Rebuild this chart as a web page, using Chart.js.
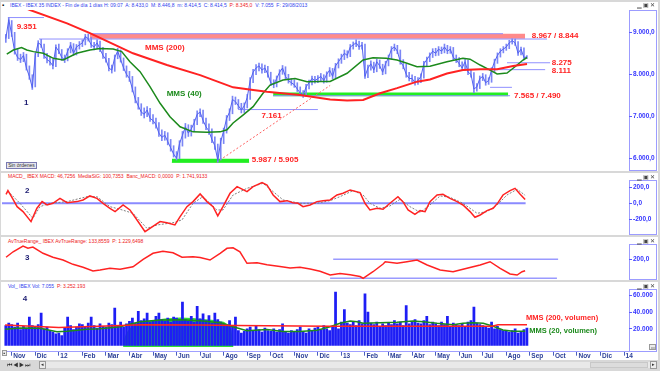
<!DOCTYPE html>
<html><head><meta charset="utf-8">
<script src="https://cdn.jsdelivr.net/npm/chart.js@4.4.1/dist/chart.umd.min.js"></script>
<style>
html,body{margin:0;padding:0;}
body{width:660px;height:371px;overflow:hidden;background:#d8d8d8;position:relative;font-family:"Liberation Sans",Arial,sans-serif;}
.panel{position:absolute;left:1px;width:657px;background:#fff;z-index:0;}
.box{position:absolute;left:629px;width:28px;box-sizing:border-box;border:1px solid #9c9cff;z-index:1;}
.hdr{position:absolute;left:9px;font-size:5px;line-height:6px;white-space:nowrap;z-index:1;}
.win{position:absolute;left:637px;font-size:6px;line-height:6px;color:#444;z-index:3;letter-spacing:1px;}
canvas{position:absolute;z-index:2;}
.btn{position:absolute;background:#ececec;border:1px solid #999;box-sizing:border-box;font-size:5px;line-height:5px;color:#333;text-align:center;z-index:3;}
</style></head>
<body>
<div class="panel" style="top:2px;height:169px"></div>
<div class="panel" style="top:173px;height:62px"></div>
<div class="panel" style="top:237px;height:43px"></div>
<div class="panel" style="top:282px;height:78px"></div>

<div class="box" style="top:10px;height:161px"></div>
<div class="box" style="top:180px;height:55px"></div>
<div class="box" style="top:244px;height:36px"></div>
<div class="box" style="top:289px;height:63px"></div>

<div class="hdr" style="top:2px;left:2px;color:#000;font-size:6px">&#9642;</div>
<div class="hdr" style="top:2px;left:10px;color:#3344ee">IBEX - IBEX 35 INDEX - Fin de día 1 días H: 09:07&nbsp; A: 8.433,0&nbsp; M: 8.446,8&nbsp; m: 8.414,5&nbsp; C: 8.414,5&nbsp; <span style="color:#ee2222">P: 8.345,0</span>&nbsp; V: 7.055&nbsp; F: 29/08/2013</div>
<div class="hdr" style="top:173px;left:8px;color:#ee2222">MACD_ IBEX MACD: 46,7256&nbsp; MediaSiG: 100,7353&nbsp; Banc_MACD: 0,0000&nbsp; P: 1.741,9133</div>
<div class="hdr" style="top:238px;left:8px;color:#ee2222">AvTrueRange_ IBEX AvTrueRange: 133,8559&nbsp; P: 1.229,6498</div>
<div class="hdr" style="top:283px;left:8px;color:#3344ee">Vol_ IBEX Vol: 7.055&nbsp; <span style="color:#ee2222">P: 3.252.193</span></div>

<div class="win" style="top:2px">▁▣✕</div>
<div class="win" style="top:174px">▁▣✕</div>
<div class="win" style="top:238px">▁▣✕</div>
<div class="win" style="top:283px">▁▣✕</div>

<div class="btn" style="left:6px;top:162px;width:31px;height:7px;border-color:#7a7ab0;background:#e6e6ef">Sin órdenes</div>
<div class="btn" style="left:2px;top:350px;width:5px;height:6px">▪</div>
<div class="btn" style="left:2px;top:361px;width:34px;height:8px;border:none;background:#d8d8d8;font-size:6px;line-height:8px;letter-spacing:1px">⏮◀▶⏭</div>
<div class="btn" style="left:39px;top:361px;width:7px;height:8px">◂</div>
<div class="btn" style="left:46px;top:362px;width:604px;height:6px;border:none;background:#e9e9e9"></div>
<div class="btn" style="left:590px;top:362px;width:58px;height:6px;border:1px solid #c8c8c8;background:#dcdcdc"></div>
<div class="btn" style="left:650px;top:361px;width:7px;height:8px">▸</div>
<div class="btn" style="left:649px;top:344px;width:7px;height:6px;font-size:4px">▭</div>

<canvas id="c1" width="656" height="173" style="left:1px;top:0px;width:656px;height:173px"></canvas>
<canvas id="c2" width="656" height="63" style="left:1px;top:173px;width:656px;height:63px"></canvas>
<canvas id="c3" width="656" height="44" style="left:1px;top:237px;width:656px;height:44px"></canvas>
<canvas id="c4" width="656" height="88" style="left:1px;top:282px;width:656px;height:88px"></canvas>

<script>
// ================= DATA =================
// x unit: months since 1-Nov-2011 (0 = Nov 2011, 14 = Jan 2013, 26 = Jan 2014)
const monthLabels = ['Nov','Dic','12','Feb','Mar','Abr','May','Jun','Jul','Ago','Sep','Oct','Nov','Dic','13','Feb','Mar','Abr','May','Jun','Jul','Ago','Sep','Oct','Nov','Dic','14'];
const sampleStart = -0.25;   // first sample ~24-Oct-2011
const sampleStep = 0.125;    // samples every ~2.6 trading days

// IBEX 35 close (sampled)
const priceClose = [
  8850, 9300,
  8950, 8550, 8400, 8350, 8450, 8150, 7950, 7680,
  8450, 8750, 8700, 8450, 8350, 8300, 8200, 8650,
  8550, 8400, 8350, 8550, 8700, 8500, 8650, 8700,
  8750, 8900, 8850, 8700, 8650, 8750, 8600, 8450,
  8350, 8150, 8100, 8400, 8550, 8350, 8150, 8000,
  7900, 7650, 7400, 7250, 7100, 7050, 7150, 6950,
  6900, 6800, 6600, 6500, 6550, 6400, 6250, 6100,
  6000, 6350, 6550, 6750, 6600, 6700, 6850, 7050,
  7100, 6900, 6750, 6650, 6450, 6300, 5950, 6400,
  6650, 6950, 7100, 7400, 7350, 7250, 7150, 7250,
  7450, 7850, 8050, 8150, 8200, 8100, 8150, 8000,
  7800, 7750, 7900, 8050, 8150, 7950, 7850, 7800,
  7750, 7650, 7550, 7500, 7700, 7800, 7900, 7850,
  7900, 7950, 7850, 8000, 8100, 7950, 8200, 8300,
  8400, 8500, 8450, 8650, 8700, 8750, 8650, 8700,
  7950, 8150, 8250, 8100, 8300, 8200, 8050, 8250,
  8400, 8600, 8650, 8550, 8300, 8200, 8000, 7900,
  7900, 7800, 7850, 7950, 8250, 8350, 8450, 8550,
  8500, 8600, 8550, 8650, 8550, 8600, 8400, 8350,
  8250, 8150, 8300, 8050, 8000, 7650, 7700, 7900,
  7950, 7800, 7850, 8100, 8300, 8450, 8550, 8600,
  8650, 8750, 8800, 8750, 8500, 8600, 8400, 8415
];
// High / low of each sampled interval
const priceHigh = [
  8950, 9351,
  9280, 9000, 8600, 8480, 8520, 8480, 8200, 7990,
  8500, 8800, 8830, 8720, 8500, 8420, 8360, 8700,
  8720, 8590, 8460, 8610, 8760, 8730, 8710, 8780,
  8820, 8950, 8960, 8880, 8760, 8820, 8790, 8640,
  8500, 8380, 8220, 8460, 8620, 8580, 8390, 8200,
  8070, 7950, 7700, 7450, 7300, 7200, 7230, 7190,
  7040, 6960, 6850, 6680, 6640, 6610, 6450, 6300,
  6160, 6420, 6640, 6830, 6800, 6790, 6930, 7130,
  7180, 7150, 6960, 6820, 6700, 6510, 6340, 6480,
  6720, 7020, 7180, 7480, 7460, 7400, 7310, 7320,
  7520, 7920, 8120, 8230, 8270, 8250, 8220, 8190,
  8050, 7870, 7960, 8110, 8210, 8180, 8000, 7900,
  7870, 7800, 7700, 7610, 7760, 7860, 7960, 7950,
  7970, 8020, 7990, 8060, 8160, 8140, 8260, 8370,
  8480, 8580, 8560, 8710, 8770, 8820, 8790, 8760,
  8720, 8220, 8320, 8290, 8360, 8340, 8240, 8310,
  8460, 8660, 8720, 8690, 8580, 8350, 8240, 8050,
  7990, 7950, 7920, 8010, 8310, 8410, 8510, 8610,
  8620, 8660, 8650, 8720, 8690, 8660, 8640, 8460,
  8400, 8300, 8360, 8340, 8120, 8040, 7780, 7960,
  8020, 7990, 7920, 8160, 8360, 8510, 8610, 8660,
  8720, 8810, 8844, 8840, 8780, 8650, 8630, 8447
];
const priceLow = [
  8760, 8850,
  8900, 8480, 8330, 8280, 8300, 8100, 7880, 7640,
  7700, 8420, 8640, 8380, 8270, 8220, 8130, 8180,
  8490, 8330, 8280, 8320, 8510, 8450, 8460, 8600,
  8660, 8700, 8790, 8640, 8580, 8610, 8540, 8380,
  8290, 8080, 8030, 8070, 8370, 8290, 8090, 7930,
  7830, 7580, 7320, 7170, 7020, 6960, 6990, 6880,
  6820, 6720, 6520, 6420, 6430, 6320, 6170, 6030,
  5960, 5990, 6290, 6480, 6520, 6530, 6640, 6800,
  6990, 6830, 6680, 6570, 6370, 6210, 5905, 5960,
  6350, 6600, 6900, 7060, 7280, 7180, 7080, 7090,
  7200, 7400, 7800, 7990, 8080, 8030, 8040, 7930,
  7730, 7680, 7700, 7860, 8000, 7890, 7790, 7740,
  7690, 7590, 7500, 7450, 7470, 7650, 7750, 7790,
  7800, 7850, 7790, 7810, 7950, 7890, 7910, 8150,
  8260, 8350, 8390, 8420, 8600, 8660, 8590, 8600,
  7900, 7920, 8100, 8040, 8060, 8140, 7990, 8010,
  8200, 8360, 8560, 8490, 8240, 8130, 7930, 7840,
  7820, 7740, 7760, 7800, 7910, 8200, 8300, 8400,
  8440, 8450, 8490, 8510, 8490, 8500, 8340, 8280,
  8180, 8090, 8100, 7990, 7930, 7565, 7600, 7660,
  7850, 7740, 7760, 7810, 8060, 8260, 8410, 8510,
  8570, 8610, 8720, 8690, 8450, 8460, 8345, 8380
];

// Volume (sampled, same grid as price)
const volume = [
  24000, 27000,
  25000, 22000, 27000, 19000, 23000, 21000, 34000, 24000,
  22000, 25000, 39000, 20000, 22000, 18000, 16000, 14000,
  15000, 12000, 21000, 34000, 24000, 19000, 22000, 26000,
  25000, 22000, 27000, 34000, 24000, 21000, 26000, 23000,
  22000, 27000, 25000, 45000, 24000, 28000, 22000, 26000,
  29000, 33000, 27000, 41000, 30000, 32000, 39000, 28000,
  30000, 35000, 39000, 31000, 29000, 33000, 28000, 34000,
  33000, 30000, 52000, 31000, 29000, 35000, 28000, 47000,
  32000, 38000, 30000, 36000, 27000, 39000, 31000, 28000,
  26000, 24000, 30000, 22000, 34000, 18000, 15000, 17000,
  20000, 22000, 18000, 24000, 19000, 16000, 21000, 18000,
  17000, 20000, 16000, 19000, 26000, 17000, 15000, 18000,
  16000, 19000, 22000, 17000, 15000, 20000, 18000, 21000,
  22000, 19000, 24000, 20000, 18000, 23000, 64000, 20000,
  28000, 43000, 27000, 25000, 29000, 24000, 30000, 26000,
  62000, 40000, 27000, 25000, 28000, 23000, 26000, 24000,
  27000, 25000, 30000, 26000, 28000, 24000, 48000, 26000,
  29000, 31000, 27000, 26000, 30000, 35000, 25000, 28000,
  26000, 24000, 28000, 25000, 35000, 22000, 27000, 25000,
  24000, 26000, 23000, 28000, 30000, 46000, 27000, 25000,
  24000, 22000, 21000, 28000, 20000, 23000, 19000, 18000,
  17000, 16000, 18000, 20000, 15000, 17000, 19000, 21000
];

// MMS (200) of price
const mms200X = [-0.41, 0.78, 2.35, 3.32, 5.15, 6.59, 8.0, 9.40, 10.25, 10.84, 12.24, 13.52, 14.24, 14.92, 15.64, 16.36, 17.21, 17.76, 18.48, 19.16, 19.89, 20.61, 21.29, 21.88];
const mms200  = [9800, 9530, 9214, 8980, 8500, 8220, 7980, 7690, 7626, 7585, 7510, 7400, 7375, 7390, 7550, 7670, 7825, 7875, 8020, 8100, 8120, 8120, 8200, 8245];

// MMS (40) of price
const mms40X = [-0.21, 0.07, 0.42, 0.64, 0.92, 1.34, 1.77, 2.19, 2.76, 3.32, 3.75, 4.31, 4.67, 5.02, 5.45, 5.87, 6.30, 6.72, 7.15, 7.70, 8.29, 8.85, 9.14, 9.40, 9.82, 10.25, 10.67, 10.97, 11.52, 12.03, 12.54, 13.09, 13.52, 14.24, 14.92, 15.34, 15.90, 16.36, 16.78, 17.21, 17.76, 18.48, 19.16, 19.46, 19.89, 20.31, 20.61, 21.03, 21.37, 21.71, 21.88];
const mms40  = [8483, 8579, 8635, 8579, 8540, 8500, 8381, 8340, 8500, 8579, 8617, 8600, 8540, 8300, 8062, 7705, 7310, 6990, 6750, 6630, 6620, 6630, 6680, 6840, 7030, 7230, 7550, 7745, 7865, 7900, 7825, 7830, 7830, 8024, 8340, 8395, 8380, 8340, 8262, 8180, 8190, 8300, 8380, 8360, 8221, 8100, 8007, 8030, 8180, 8340, 8400];

// Support / resistance levels
const bandResistance = [8967, 8844];
const bandSupportLow = [5987, 5905];
const bandSupportMid = [7565, 7490];
const levelValues = [9351, 8967, 8840, 7161, 8275, 8111, 7690, 7490];
const levelFrom   = [-0.16, 3.32, 1.16, 9.61, 21.03, 20.18, 20.31, 11.10];
const levelTo     = [1.37, 20.86, 22.73, 13.00, 22.86, 22.65, 21.24, 21.16];
const trendFrom = [8.70, 5905];
const trendTo   = [13.52, 7735];

// MACD
const macdX = [-0.24, -0.16, 0.01, 0.23, 0.48, 0.82, 1.07, 1.29, 1.50, 1.75, 2.05, 2.35, 2.77, 3.03, 3.32, 3.62, 3.88, 4.17, 4.39, 4.73, 5.02, 5.32, 5.66, 5.87, 6.30, 6.59, 6.93, 7.15, 7.44, 7.70, 8.00, 8.29, 8.55, 8.75, 8.97, 9.27, 9.57, 9.99, 10.25, 10.63, 10.84, 11.10, 11.39, 11.69, 11.94, 12.16, 12.37, 12.67, 12.96, 13.22, 13.52, 13.81, 14.07, 14.37, 14.79, 15.00, 15.21, 15.51, 15.77, 16.06, 16.40, 16.61, 16.83, 17.12, 17.34, 17.55, 17.76, 18.06, 18.31, 18.61, 18.91, 19.16, 19.46, 19.67, 19.89, 20.18, 20.44, 20.65, 20.86, 21.16, 21.37, 21.58, 21.80];
const macd  = [112, 158, 75, -42, -104, -229, -62, 21, -21, 0, 62, 8, 21, 42, 92, 62, 0, -62, -104, -21, -83, -208, -354, -312, -229, -242, -271, -167, -42, 21, 117, 21, -42, -158, -42, 125, 208, 146, 208, 258, 229, 104, 21, 33, 8, 0, -42, -21, 21, 33, 42, 104, 125, 167, 133, 0, -83, -62, -75, 0, 83, 21, -83, -137, -92, -104, 21, 104, 112, 62, 21, -21, -104, -175, -146, -92, -62, 8, 104, 158, 187, 117, 47];
const signalX = [-0.07, 0.35, 0.90, 1.20, 1.63, 2.35, 3.20, 3.62, 4.17, 4.60, 5.15, 5.74, 6.17, 6.85, 7.23, 7.70, 8.12, 8.71, 8.97, 9.40, 9.99, 10.67, 11.10, 11.52, 12.24, 12.96, 13.52, 13.94, 14.49, 14.92, 15.21, 15.64, 16.06, 16.49, 16.91, 17.34, 17.76, 18.19, 18.61, 19.16, 19.76, 20.18, 20.61, 21.03, 21.46, 21.80];
const signal  = [125, 0, -187, -42, 0, 21, 83, 83, -42, -75, -125, -312, -271, -242, -208, 0, 83, -83, -83, 104, 187, 250, 146, 42, 0, 0, 33, 83, 158, 104, 0, -62, -33, 50, -42, -112, -21, 92, 75, 0, -125, -104, -21, 104, 175, 100];

// Average True Range
const atrX = [-0.24, 0.06, 0.48, 0.69, 0.90, 1.33, 1.75, 2.18, 2.60, 3.03, 3.45, 3.75, 4.17, 4.60, 5.15, 5.58, 6.00, 6.42, 6.85, 7.23, 7.70, 8.00, 8.42, 8.85, 9.14, 9.40, 9.69, 9.99, 10.42, 10.84, 11.39, 11.82, 12.24, 12.67, 13.09, 13.52, 13.94, 14.37, 14.79, 14.92, 15.34, 15.77, 15.86, 16.36, 16.78, 17.21, 17.64, 18.19, 18.74, 19.33, 19.89, 20.31, 20.74, 21.16, 21.46, 21.67, 21.80];
const atr  = [212, 244, 277, 265, 271, 235, 212, 196, 171, 154, 133, 138, 148, 142, 157, 200, 235, 247, 238, 212, 215, 210, 196, 235, 264, 267, 244, 177, 180, 168, 159, 150, 154, 144, 131, 109, 117, 110, 100, 90, 128, 173, 186, 177, 186, 196, 167, 138, 128, 148, 167, 186, 148, 115, 109, 128, 134];
const atrLevels = [200, 90];
const atrLevelFrom = [13.65, 13.52];
const atrLevelTo = [23.20, 23.15];

// Volume moving averages
const volMa20X = [-0.28, 0.35, 1.20, 1.92, 2.35, 3.20, 3.75, 4.60, 5.45, 6.30, 7.15, 8.00, 8.85, 9.40, 9.99, 10.84, 11.52, 12.24, 12.96, 13.52, 13.94, 14.37, 14.66, 14.92, 15.64, 16.36, 17.04, 17.47, 18.06, 18.74, 19.16, 19.59, 20.02, 20.44, 20.86, 21.29, 21.80];
const volMa20  = [19400, 21000, 20600, 16600, 17000, 19400, 20000, 22600, 28600, 30600, 31000, 29600, 27400, 22600, 17800, 19200, 16800, 16800, 18400, 22600, 26600, 29400, 28600, 26600, 27400, 27800, 29400, 28600, 26600, 25000, 26600, 27400, 26600, 23000, 18600, 17000, 17000];
const volMa200X = [-0.28, 2.0, 4.0, 5.5, 8.0, 9.5, 13.5, 16.0, 19.0, 20.4, 20.65, 21.88];
const volMa200  = [24600, 21500, 23500, 25000, 24500, 24000, 23000, 23000, 23000, 23000, 25000, 25000];
// highlighted high-volume zone (May-Jul 2012)
const volZoneX = [4.73, 4.85, 5.02, 5.45, 5.87, 6.5, 7.15, 7.7, 8.0, 8.6, 9.0, 9.2, 9.33, 9.42];
const volZone  = [3000, 14000, 21000, 27500, 30000, 32500, 33500, 33000, 32000, 30500, 28500, 25000, 18000, -1800];

// Axis ticks
const priceTicks = [6000, 7000, 8000, 9000];
const macdTicks = [-200, 0, 200];
const atrTicks = [200];
const volTicks = [20000, 40000, 60000];

// ================= HELPERS =================
function esNum(v, dec) {
  const neg = v < 0;
  const s = Math.abs(v).toFixed(dec);
  let [i, d] = s.split('.');
  i = i.replace(/\B(?=(\d{3})+(?!\d))/g, '.');
  return (neg ? '-' : '') + i + (d ? ',' + d : '');
}
const pts = (xs, ys) => xs.map((x, i) => ({x, y: ys[i]}));
const grid = arr => arr.map((v, i) => ({x: sampleStart + i * sampleStep, y: v}));
const gridRange = (lo, hi) => lo.map((v, i) => ({x: sampleStart + i * sampleStep, y: [v, hi[i]]}));
const seg = (v, a, b) => [{x: a, y: v}, {x: b, y: v}];

const RED = '#ff2222', GREEN = '#1c8a1c', BLUE = '#5262f0', LEV = '#9090ff', NAVY = '#1a1a70';
const XMIN = -0.412, XMAX = 26.21;

const textPlugin = {
  id: 'txt',
  afterDatasetsDraw(chart, args, opts) {
    const {ctx, scales: {x, y}} = chart;
    ctx.save();
    (opts.items || []).forEach(it => {
      ctx.font = (it.font || 'bold 8px') + ' "Liberation Sans", Arial, sans-serif';
      ctx.fillStyle = it.color;
      ctx.textBaseline = 'middle';
      ctx.textAlign = 'left';
      ctx.fillText(it.text, x.getPixelForValue(it.x), y.getPixelForValue(it.y));
    });
    ctx.restore();
  }
};
Chart.register(textPlugin);

function yAxis(min, max, ticks, fmt) {
  return {
    type: 'linear', position: 'right', min, max,
    afterBuildTicks: s => { s.ticks = ticks.map(v => ({value: v})); },
    afterFit: s => { s.width = 28; s.paddingTop = 0; s.paddingBottom = 0; },
    grid: {drawOnChartArea: false, drawTicks: true, tickLength: 3, color: '#5a5aff'},
    border: {display: false},
    ticks: {font: {size: 6.5, weight: 'bold', family: '"Liberation Sans", Arial'}, color: '#3535ff', padding: 1, callback: v => fmt(v)}
  };
}
const xHidden = {type: 'linear', min: XMIN, max: XMAX, offset: false, display: false};

function baseOpts(padTop, padBottom, y, items, x) {
  return {
    responsive: false, animation: false, devicePixelRatio: 1,
    layout: {padding: {left: 1, right: 0, top: padTop, bottom: padBottom}},
    elements: {point: {radius: 0}, line: {tension: 0}},
    plugins: {legend: {display: false}, tooltip: {enabled: false}, txt: {items}},
    scales: {x: x || xHidden, y}
  };
}
const line = (data, color, width, order, extra) => Object.assign({type: 'line', data, borderColor: color, borderWidth: width, pointRadius: 0, fill: false, order}, extra || {});

// ================= PANEL 1: PRICE =================
const p1 = [];
p1.push(line(seg(bandResistance[0], 3.32, 21.8), 'rgba(0,0,0,0)', 0, 9, {fill: '+1', backgroundColor: '#ff8a8a'}));
p1.push(line(seg(bandResistance[1], 3.32, 21.8), 'rgba(0,0,0,0)', 0, 9));
p1.push(line(seg(bandSupportLow[0], 6.8, 10.08), 'rgba(0,0,0,0)', 0, 9, {fill: '+1', backgroundColor: '#22ee22'}));
p1.push(line(seg(bandSupportLow[1], 6.8, 10.08), '#22ee22', 1, 9));
p1.push(line(seg(bandSupportMid[0], 11.1, 21.08), 'rgba(0,0,0,0)', 0, 9, {fill: '+1', backgroundColor: '#22ee22'}));
p1.push(line(seg(bandSupportMid[1], 11.1, 21.08), '#22ee22', 1, 9));
levelValues.forEach((v, i) => p1.push(line(seg(v, levelFrom[i], levelTo[i]), LEV, 1, 8)));
p1.push(line([{x: trendFrom[0], y: trendFrom[1]}, {x: trendTo[0], y: trendTo[1]}], '#ff6060', 1, 7, {borderDash: [2, 2]}));
p1.push({type: 'bar', data: gridRange(priceLow, priceHigh), backgroundColor: '#7b86f5', barThickness: 1, order: 4});
p1.push(line(grid(priceClose), BLUE, 1, 3));
p1.push(line(pts(mms200X, mms200), RED, 2, 1));
p1.push(line(pts(mms40X, mms40), GREEN, 1.5, 1));

new Chart(document.getElementById('c1'), {
  type: 'line',
  data: {datasets: p1},
  options: baseOpts(10, 2, yAxis(5698, 9531, priceTicks, v => esNum(v, 1)), [
    {text: esNum(levelValues[0], 0), x: 0.21, y: 9133, color: RED},
    {text: 'MMS (200)', x: 5.66, y: 8633, color: RED},
    {text: 'MMS (40)', x: 6.58, y: 7531, color: GREEN},
    {text: '1', x: 0.52, y: 7333, color: NAVY},
    {text: esNum(levelValues[3], 0), x: 10.61, y: 7007, color: RED},
    {text: esNum(bandSupportLow[0], 0) + ' / ' + esNum(bandSupportLow[1], 0), x: 10.19, y: 5960, color: RED},
    {text: esNum(bandSupportMid[0], 0) + ' / ' + esNum(bandSupportMid[1], 0), x: 21.33, y: 7483, color: RED},
    {text: esNum(bandResistance[0], 0) + ' / ' + esNum(bandResistance[1], 0), x: 22.08, y: 8919, color: RED},
    {text: esNum(levelValues[4], 0), x: 22.93, y: 8276, color: RED},
    {text: esNum(levelValues[5], 0), x: 22.93, y: 8095, color: RED}
  ])
});

// ================= PANEL 2: MACD =================
new Chart(document.getElementById('c2'), {
  type: 'line',
  data: {datasets: [
    line(seg(0, XMIN, 21.82), '#8a8aff', 2, 5),
    line(pts(signalX, signal), '#808080', 1, 3, {borderDash: [2, 1.5]}),
    line(pts(macdX, macd), RED, 1.5, 1)
  ]},
  options: baseOpts(7, 1, yAxis(-396, 291, macdTicks, v => esNum(v, 1)), [
    {text: '2', x: 0.565, y: 157, color: NAVY}
  ])
});

// ================= PANEL 3: ATR =================
new Chart(document.getElementById('c3'), {
  type: 'line',
  data: {datasets: [
    line(seg(atrLevels[0], atrLevelFrom[0], atrLevelTo[0]), '#9a9aff', 1.5, 5),
    line(seg(atrLevels[1], atrLevelFrom[1], atrLevelTo[1]), '#9a9aff', 1.5, 5),
    line(pts(atrX, atr), RED, 1.5, 1)
  ]},
  options: baseOpts(7, 1, yAxis(80, 289, atrTicks, v => esNum(v, 1)), [
    {text: '3', x: 0.565, y: 206, color: NAVY}
  ])
});

// ================= PANEL 4: VOLUME =================
const xVol = {
  type: 'linear', min: XMIN, max: XMAX, offset: false, position: 'bottom',
  afterBuildTicks: s => { s.ticks = monthLabels.map((_, i) => ({value: i})); },
  afterFit: s => { s.height = 18.3; s.paddingLeft = 0; s.paddingRight = 0; },
  grid: {drawOnChartArea: false, drawTicks: true, tickLength: 4, color: '#4a5fc0', offset: false},
  border: {display: true, color: '#a0a0ff'},
  ticks: {autoSkip: false, maxRotation: 0, minRotation: 0, align: 'start', labelOffset: 1.5, padding: -3,
    font: {size: 6.5, weight: 'bold', family: '"Liberation Sans", Arial'}, color: '#2b3f96',
    callback: v => monthLabels[v]}
};
new Chart(document.getElementById('c4'), {
  type: 'line',
  data: {datasets: [
    line(pts(volZoneX, volZone), 'rgba(0,0,0,0)', 0, 9, {fill: {value: -1800}, backgroundColor: '#33e033'}),
    {type: 'bar', data: grid(volume), backgroundColor: '#1e1ef5', barThickness: 2.1, order: 3},
    line(pts(volMa200X, volMa200), RED, 1.5, 1),
    line(pts(volMa20X, volMa20), GREEN, 1.5, 1)
  ]},
  options: baseOpts(7, 0, yAxis(-7440, 67800, volTicks, v => esNum(v, 0)), [
    {text: '4', x: 0.47, y: 55800, color: NAVY},
    {text: 'MMS (200, volumen)', x: 21.84, y: 32640, color: RED, font: 'bold 7.5px'},
    {text: 'MMS (20, volumen)', x: 21.97, y: 17400, color: GREEN, font: 'bold 7.5px'}
  ], xVol)
});
</script>
</body></html>
